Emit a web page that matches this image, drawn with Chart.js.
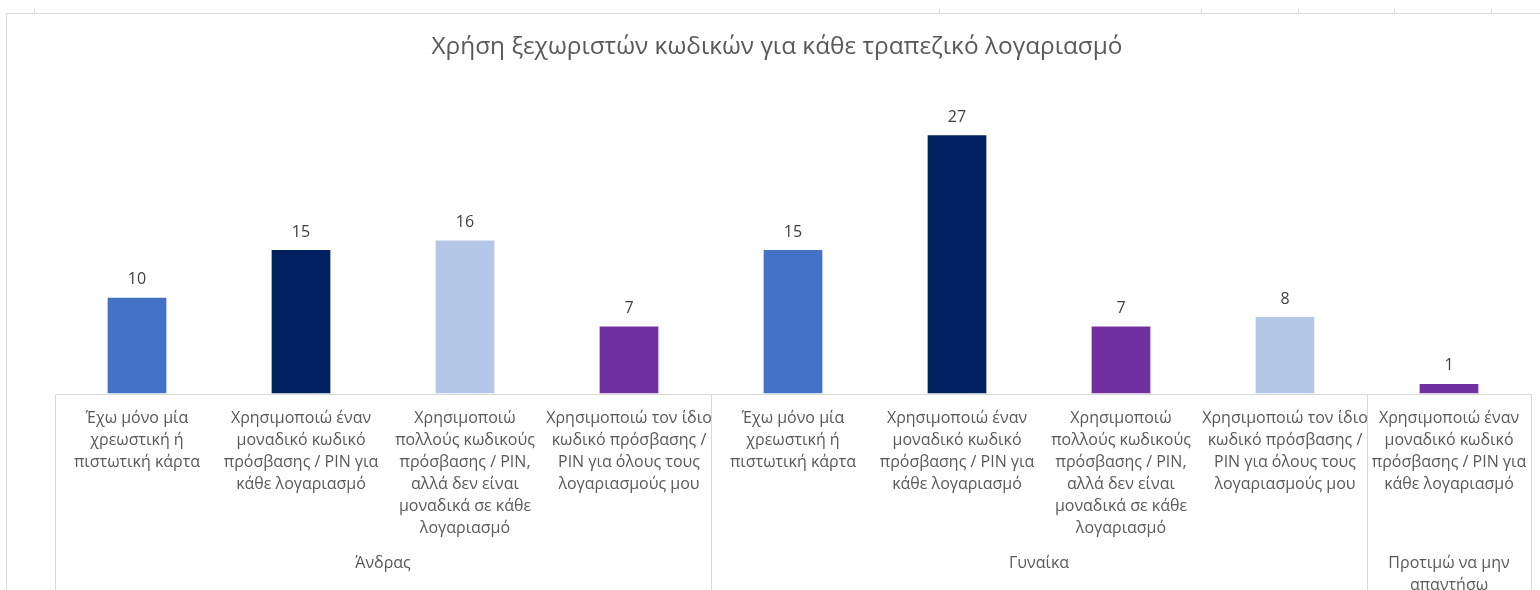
<!DOCTYPE html>
<html>
<head>
<meta charset="utf-8">
<script src="https://cdn.jsdelivr.net/npm/chart.js@4"></script>
<style>
  body { margin: 0; background: #fff; }
</style>
</head>
<body>
<canvas id="myChart" width="1540" height="590"></canvas>
<script>
// Κωδικοί ανά απάντηση και φύλο
const chartTitle = "Χρήση ξεχωριστών κωδικών για κάθε τραπεζικό λογαριασμό";

const categories = [
  ["Έχω μόνο μία", "χρεωστική ή", "πιστωτική κάρτα"],
  ["Χρησιμοποιώ έναν", "μοναδικό κωδικό", "πρόσβασης / PIN για", "κάθε λογαριασμό"],
  ["Χρησιμοποιώ", "πολλούς κωδικούς", "πρόσβασης / PIN,", "αλλά δεν είναι", "μοναδικά σε κάθε", "λογαριασμό"],
  ["Χρησιμοποιώ τον ίδιο", "κωδικό πρόσβασης /", "PIN για όλους τους", "λογαριασμούς μου"],
  ["Έχω μόνο μία", "χρεωστική ή", "πιστωτική κάρτα"],
  ["Χρησιμοποιώ έναν", "μοναδικό κωδικό", "πρόσβασης / PIN για", "κάθε λογαριασμό"],
  ["Χρησιμοποιώ", "πολλούς κωδικούς", "πρόσβασης / PIN,", "αλλά δεν είναι", "μοναδικά σε κάθε", "λογαριασμό"],
  ["Χρησιμοποιώ τον ίδιο", "κωδικό πρόσβασης /", "PIN για όλους τους", "λογαριασμούς μου"],
  ["Χρησιμοποιώ έναν", "μοναδικό κωδικό", "πρόσβασης / PIN για", "κάθε λογαριασμό"],
];

const groups = [["Άνδρας"], ["Γυναίκα"], ["Προτιμώ να μην", "απαντήσω"]];
const groupSizes = [4, 4, 1];

const values = [10, 15, 16, 7, 15, 27, 7, 8, 1];

const barColors = [
  "#4472C4", "#002060", "#B4C7E7", "#7030A0",
  "#4472C4", "#002060", "#7030A0", "#B4C7E7",
  "#7030A0",
];

const FONT = "'Open Sans', 'Noto Sans', sans-serif";
const TEXT = "#595959";
const LINE = "#D9D9D9";

// πλαίσιο, γραμμή άξονα και διαχωριστικά ομάδων
const frame = {
  id: "frame",
  beforeDraw(chart) {
    const c = chart.ctx;
    c.save();
    c.strokeStyle = LINE;
    c.lineWidth = 1;
    c.beginPath();
    c.moveTo(6.5, 590);
    c.lineTo(6.5, 13.5);
    c.lineTo(1540, 13.5);
    [34, 939, 1201, 1298, 1394, 1491].forEach((x) => {
      c.moveTo(x + 0.5, 9);
      c.lineTo(x + 0.5, 13.5);
    });
    c.stroke();
    c.restore();
  },
  afterDraw(chart) {
    const c = chart.ctx;
    const x = chart.scales.x;
    const area = chart.chartArea;
    const half = (x.getPixelForValue(1) - x.getPixelForValue(0)) / 2;
    const y0 = Math.round(area.bottom) + 0.5;
    c.save();
    c.strokeStyle = LINE;
    c.lineWidth = 1;
    c.beginPath();
    c.moveTo(x.getPixelForValue(0) - half, y0);
    c.lineTo(x.getPixelForValue(values.length - 1) + half, y0);
    let idx = 0;
    const bounds = [0];
    groupSizes.forEach((n) => { idx += n; bounds.push(idx); });
    bounds.forEach((b) => {
      const px = Math.round(x.getPixelForValue(b) - half) + 0.5;
      c.moveTo(px, y0);
      c.lineTo(px, 590);
    });
    c.stroke();

    // ονόματα ομάδων
    c.fillStyle = TEXT;
    c.font = "16px " + FONT;
    c.textAlign = "center";
    c.textBaseline = "middle";
    groups.forEach((lines, g) => {
      const from = bounds[g], to = bounds[g + 1] - 1;
      const cx = (x.getPixelForValue(from) + x.getPixelForValue(to)) / 2;
      lines.forEach((t, i) => c.fillText(t, cx, 563 + i * 22));
    });
    c.restore();
  },
  afterDatasetsDraw(chart) {
    const c = chart.ctx;
    c.save();
    c.fillStyle = "#404040";
    c.font = "16px " + FONT;
    c.textAlign = "center";
    c.textBaseline = "middle";
    chart.getDatasetMeta(0).data.forEach((bar, i) => {
      c.fillText(values[i], bar.x, bar.y - 18);
    });
    c.restore();
  },
};

const ctx = document.getElementById("myChart").getContext("2d");

const myChart = new Chart(ctx, {
  type: "bar",
  data: {
    labels: categories,
    datasets: [
      {
        data: values,
        backgroundColor: barColors,
        categoryPercentage: 1,
        barPercentage: 0.358,
      },
    ],
  },
  options: {
    responsive: false,
    animation: false,
    devicePixelRatio: 1,
    layout: { padding: { left: 23, right: 9, top: 0, bottom: 0 } },
    plugins: {
      legend: { display: false },
      tooltip: { enabled: false },
      title: {
        display: true,
        text: chartTitle,
        color: TEXT,
        font: { family: FONT, size: 24.4, weight: "normal" },
        padding: { top: 32.7, bottom: 44.5 },
      },
    },
    scales: {
      x: {
        grid: { display: false },
        border: { display: false },
        ticks: {
          autoSkip: false,
          maxRotation: 0,
          minRotation: 0,
          padding: 6,
          color: TEXT,
          font: { family: FONT, size: 16, lineHeight: 22 / 16 },
        },
        afterFit(scale) {
          scale.height = 196.5;
        },
      },
      // άξονας τιμών κρυφός, κρατά μόνο το κενό αριστερά
      y: {
        min: 0,
        max: 30,
        grid: { display: false },
        border: { display: false },
        ticks: { display: false },
        afterFit(scale) {
          scale.width = 32;
        },
      },
    },
  },
  plugins: [frame],
});
</script>
</body>
</html>
